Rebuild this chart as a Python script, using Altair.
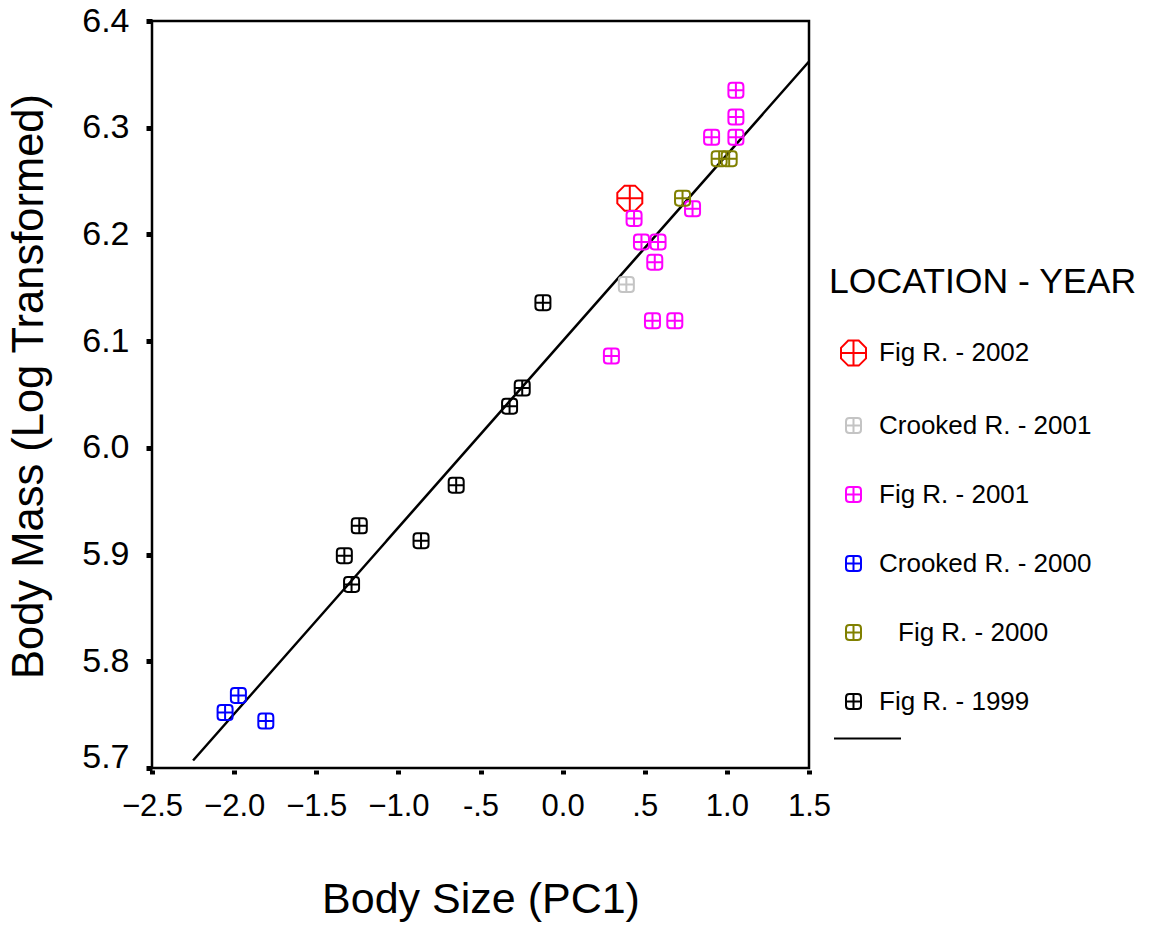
import altair as alt
import pandas as pd

# ---- data ----
groups = ["Fig R. - 2002", "Crooked R. - 2001", "Fig R. - 2001",
          "Crooked R. - 2000", "\u2800Fig R. - 2000", "Fig R. - 1999"]
colors = ["#ff0000", "#c4c4c4", "#ff00ff", "#0000ff", "#808000", "#000000"]

fig2002_x = [0.409]
fig2002_y = [6.234]
crk2001_x = [0.388]
crk2001_y = [6.153]
fig2001_x = [1.055, 1.055, 0.907, 1.055, 0.791, 0.435, 0.480, 0.581, 0.561, 0.547, 0.683, 0.297]
fig2001_y = [6.335, 6.310, 6.291, 6.291, 6.224, 6.215, 6.193, 6.193, 6.174, 6.119, 6.119, 6.086]
crk2000_x = [-1.974, -2.055, -1.807]
crk2000_y = [5.768, 5.752, 5.744]
fig2000_x = [0.730, 0.953, 1.014]
fig2000_y = [6.234, 6.271, 6.271]
fig1999_x = [-0.120, -0.246, -0.323, -0.648, -0.862, -1.238, -1.329, -1.285]
fig1999_y = [6.136, 6.056, 6.039, 5.965, 5.913, 5.927, 5.899, 5.872]

fit_x = [-2.25, 1.5]
fit_y = [5.707, 6.362]

x_ticks = [-2.5, -2.0, -1.5, -1.0, -0.5, 0.0, 0.5, 1.0, 1.5]
y_ticks = [5.7, 5.8, 5.9, 6.0, 6.1, 6.2, 6.3, 6.4]

# ---- build tables ----
rows = []
for g, xs, ys in zip(groups,
                     [fig2002_x, crk2001_x, fig2001_x, crk2000_x, fig2000_x, fig1999_x],
                     [fig2002_y, crk2001_y, fig2001_y, crk2000_y, fig2000_y, fig1999_y]):
    for xv, yv in zip(xs, ys):
        rows.append({"pc1": xv, "mass": yv, "grp": g})
pts = pd.DataFrame(rows)
fit = pd.DataFrame({"pc1": fit_x, "mass": fit_y, "fit": ["fit"] * len(fit_x)})

octagon = ("M-0.42,-1L0.42,-1L1,-0.42L1,0.42L0.42,1L-0.42,1L-1,0.42L-1,-0.42Z"
           "M0,-1L0,1M-1,0L1,0")
rsquare = ("M-0.55,-1L0.55,-1Q1,-1 1,-0.55L1,0.55Q1,1 0.55,1L-0.55,1"
           "Q-1,1 -1,0.55L-1,-0.55Q-1,-1 -0.55,-1Z M0,-1L0,1M-1,0L1,0")
shapes = [octagon] + [rsquare] * 5
sizes = [625, 225, 225, 225, 225, 225]

FONT = "Liberation Sans"

xlabel_expr = ("datum.value == 0 ? '0.0' : (datum.value == 0.5 ? '.5' : "
               "(datum.value == -0.5 ? '-.5' : format(datum.value, '.1f')))")

x_enc = alt.X("pc1:Q", scale=alt.Scale(domain=[-2.5, 1.5], nice=False, zero=False),
              axis=alt.Axis(values=x_ticks, labelExpr=xlabel_expr, title="Body Size (PC1)",
                            grid=False, domain=False, offset=2, tickSize=4, tickWidth=5,
                            tickColor="black", labelFontSize=31, labelPadding=17,
                            labelColor="black", titleFontSize=43, titleFontWeight="normal",
                            titlePadding=57, titleColor="black", labelFont=FONT,
                            titleFont=FONT, labelFlush=False))
y_enc = alt.Y("mass:Q", scale=alt.Scale(domain=[5.7, 6.4], nice=False, zero=False),
              axis=alt.Axis(values=y_ticks, format=".1f", title="Body Mass (Log Transformed)",
                            grid=False, domain=False, tickSize=6, tickWidth=5,
                            tickColor="black", labelFontSize=34, labelPadding=17,
                            labelColor="black", titleFontSize=43.5, titleFontWeight="normal",
                            titlePadding=30, titleColor="black", labelFont=FONT,
                            titleFont=FONT, labelFlush=False, titleY=365,
                            labelOffset={"condition": {"test": "datum.value < 5.75", "value": -11},
                                         "value": 0}))

grp_legend = alt.Legend(title="LOCATION - YEAR", orient="none",
                        legendX=677, legendY=244,
                        titleFontSize=35.6, titleFontWeight="normal",
                        titleFont=FONT, titleColor="black", titleLimit=500,
                        titlePadding=39, labelFont=FONT, labelFontSize=26,
                        labelColor="black", labelOffset=12, rowPadding=43,
                        symbolOffset=11, symbolStrokeWidth=2,
                        labelLimit=400)

points = alt.Chart(pts).mark_point(filled=False, strokeWidth=2, opacity=1).encode(
    x=x_enc,
    y=y_enc,
    color=alt.Color("grp:N", scale=alt.Scale(domain=groups, range=colors), legend=grp_legend),
    shape=alt.Shape("grp:N", scale=alt.Scale(domain=groups, range=shapes), legend=grp_legend),
    size=alt.Size("grp:N", scale=alt.Scale(type="ordinal", domain=groups, range=sizes),
                  legend=grp_legend),
)

line = alt.Chart(fit).mark_line(color="black", strokeWidth=2.5).encode(
    x="pc1:Q",
    y="mass:Q",
    strokeDash=alt.StrokeDash("fit:N", scale=alt.Scale(domain=["fit"], range=[[1, 0]]),
                              legend=alt.Legend(title=None, orient="none", legendX=681,
                                                legendY=683, symbolType="stroke",
                                                symbolSize=4489, symbolStrokeWidth=2,
                                                symbolStrokeColor="black",
                                                labelExpr="''", labelFontSize=1)),
)

chart = alt.layer(line, points).properties(
    width=657, height=747,
    background="white",
    autosize=alt.AutoSizeParams(type="none"),
    padding={"left": 152, "top": 21, "right": 341, "bottom": 157},
).configure_view(stroke="black", strokeWidth=2.5)

chart.save("out.html", embed_options={"renderer": "svg", "actions": False})
